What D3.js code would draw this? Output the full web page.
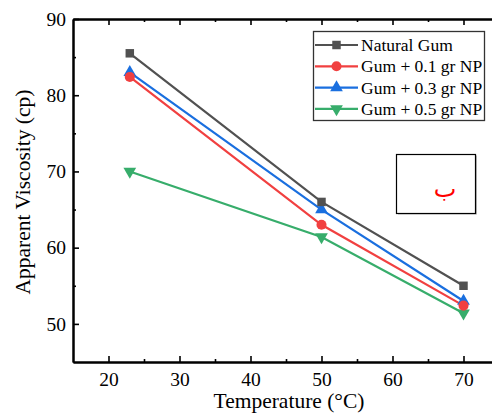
<!DOCTYPE html>
<html>
<head>
<meta charset="utf-8">
<script src="https://cdn.jsdelivr.net/npm/d3@7"></script>
<style>
  html, body { margin: 0; padding: 0; background: #fff; }
  svg { display: block; font-family: "Liberation Serif", "Times New Roman", serif; }
  .tick text { font-family: "Liberation Serif", "Times New Roman", serif; }
</style>
</head>
<body>
<svg id="chart" width="492" height="414"></svg>
<script>
// Apparent viscosity of gum solutions versus temperature
const temperatures = [23, 50, 70];
const seriesNames = ["Natural Gum", "Gum + 0.1 gr NP", "Gum + 0.3 gr NP", "Gum + 0.5 gr NP"];
const naturalGum = [85.5, 66, 55];
const gum01 = [82.4, 63, 52.4];
const gum03 = [83, 65, 53];
const gum05 = [70, 61.4, 51.4];
const seriesColors = ["#515151", "#F14040", "#1A6FDF", "#37AD6B"];
const seriesSymbols = [d3.symbolSquare, d3.symbolCircle, d3.symbolTriangle, "down"];
const xTicks = [20, 30, 40, 50, 60, 70];
const yTicks = [50, 60, 70, 80, 90];
const panelLabel = "ب";

const series = [naturalGum, gum01, gum03, gum05].map((vals, i) => ({
  name: seriesNames[i],
  color: seriesColors[i],
  symbol: seriesSymbols[i],
  points: vals.map((v, j) => ({ x: temperatures[j], y: v }))
}));

const svg = d3.select("#chart");
const plotLeft = 73, plotRight = 499, plotTop = 19, plotBottom = 362;

const x = d3.scaleLinear().domain([15, 75]).range([plotLeft, plotRight]);
const y = d3.scaleLinear().domain([45, 90]).range([plotBottom, plotTop]);

const fontSize = 19.5;
const titleSize = 21.5;

// Axes with inward ticks
function styleAxis(g) {
  g.attr("font-family", "Liberation Serif");
  g.select(".domain").attr("stroke", "#000").attr("stroke-width", 2);
  g.selectAll(".tick line").attr("stroke", "#000").attr("stroke-width", 1.6);
  g.selectAll(".tick text").attr("font-size", fontSize).attr("fill", "#000");
}

const xMinor = d3.range(25, 75, 10);
const yMinor = d3.range(55, 90, 10);

// bottom
svg.append("g").attr("transform", `translate(0,${plotBottom})`)
  .call(d3.axisBottom(x).tickValues(xMinor).tickSize(-3).tickSizeOuter(0).tickFormat(""))
  .call(styleAxis);
svg.append("g").attr("transform", `translate(0,${plotBottom})`)
  .call(d3.axisBottom(x).tickValues(xTicks).tickSize(-6).tickSizeOuter(0).tickPadding(10))
  .call(styleAxis);
// top
svg.append("g").attr("transform", `translate(0,${plotTop})`)
  .call(d3.axisTop(x).tickValues(xMinor).tickSize(-3).tickSizeOuter(0).tickFormat(""))
  .call(styleAxis);
svg.append("g").attr("transform", `translate(0,${plotTop})`)
  .call(d3.axisTop(x).tickValues(xTicks).tickSize(-6).tickSizeOuter(0).tickFormat(""))
  .call(styleAxis);
// left
svg.append("g").attr("transform", `translate(${plotLeft},0)`)
  .call(d3.axisLeft(y).tickValues(yMinor).tickSize(-3).tickSizeOuter(0).tickFormat(""))
  .call(styleAxis);
svg.append("g").attr("transform", `translate(${plotLeft},0)`)
  .call(d3.axisLeft(y).tickValues(yTicks).tickSize(-6).tickSizeOuter(0).tickPadding(7))
  .call(styleAxis);
// right
svg.append("g").attr("transform", `translate(${plotRight},0)`)
  .call(d3.axisRight(y).tickValues(yTicks).tickSize(-6).tickSizeOuter(0).tickFormat(""))
  .call(styleAxis);

// Axis titles
svg.append("text")
  .attr("x", 289).attr("y", 408)
  .attr("text-anchor", "middle")
  .attr("font-size", titleSize)
  .text("Temperature (°C)");
svg.append("text")
  .attr("transform", `translate(30,${192}) rotate(-90)`)
  .attr("text-anchor", "middle")
  .attr("font-size", titleSize)
  .text("Apparent Viscosity (cp)");

// Marker drawing
function markerPath(sym, size) {
  if (sym === "down") {
    return d3.symbol(d3.symbolTriangle, size)();
  }
  return d3.symbol(sym, size)();
}
function markerSize(sym) {
  if (sym === d3.symbolSquare) return 72;
  if (sym === d3.symbolCircle) return 80;
  return 70;
}
function markerTransform(sym, px, py) {
  if (sym === "down") return `translate(${px},${py}) rotate(180)`;
  return `translate(${px},${py})`;
}

const line = d3.line().x(d => x(d.x)).y(d => y(d.y));

// Draw series in reverse so the first series sits on top
const plot = svg.append("g");
series.slice().reverse().forEach(s => {
  plot.append("path")
    .datum(s.points)
    .attr("d", line)
    .attr("fill", "none")
    .attr("stroke", s.color)
    .attr("stroke-width", 2.2);
});
series.slice().reverse().forEach(s => {
  plot.selectAll(null)
    .data(s.points)
    .enter().append("path")
    .attr("d", markerPath(s.symbol, markerSize(s.symbol)))
    .attr("transform", d => markerTransform(s.symbol, x(d.x), y(d.y)))
    .attr("fill", s.color);
});

// Legend
const legend = svg.append("g");
legend.append("rect")
  .attr("x", 313.5).attr("y", 31.5)
  .attr("width", 171).attr("height", 89)
  .attr("fill", "#fff")
  .attr("stroke", "#333").attr("stroke-width", 1.3);
series.forEach((s, i) => {
  const ly = 45 + i * 21.3;
  legend.append("line")
    .attr("x1", 315).attr("x2", 358)
    .attr("y1", ly).attr("y2", ly)
    .attr("stroke", s.color).attr("stroke-width", 2.2);
  legend.append("path")
    .attr("d", markerPath(s.symbol, markerSize(s.symbol)))
    .attr("transform", markerTransform(s.symbol, 336.5, ly))
    .attr("fill", s.color);
  legend.append("text")
    .attr("x", 361).attr("y", ly + 6)
    .attr("font-size", 17.5)
    .attr("fill", "#000")
    .text(s.name);
});

// Panel label box
const tag = svg.append("g");
tag.append("rect")
  .attr("x", 398).attr("y", 155.5)
  .attr("width", 79).attr("height", 59)
  .attr("fill", "#bbb");
tag.append("rect")
  .attr("x", 396.5).attr("y", 154.5)
  .attr("width", 79).attr("height", 59)
  .attr("fill", "#fff")
  .attr("stroke", "#000").attr("stroke-width", 1.2);
tag.append("text")
  .attr("x", 445).attr("y", 197)
  .attr("text-anchor", "middle")
  .attr("font-size", 24)
  .attr("fill", "#ff0000")
  .attr("font-family", "DejaVu Sans, Noto Sans, sans-serif")
  .text(panelLabel);
</script>
</body>
</html>
